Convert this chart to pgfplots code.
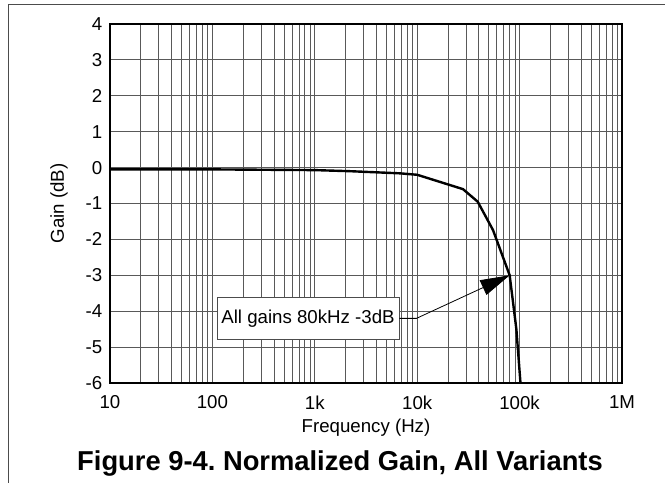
\documentclass[border=0pt]{standalone}
\usepackage{fontspec}
\setmainfont{Liberation Sans}
\usepackage{pgfplots}
\pgfplotsset{compat=1.18}
\usetikzlibrary{arrows.meta}
\begin{document}
\frenchspacing
\fontsize{14}{16}\selectfont
\begin{tikzpicture}
\useasboundingbox (-82.5pt,-75pt) rectangle (416.25pt,287.25pt);
\begin{axis}[
  at={(0,0)}, anchor=south west,
  scale only axis, width=384pt, height=269.25pt,
  xmode=log, log basis x=10,
  xmin=10, xmax=1e6, ymin=-6, ymax=4,
  xtick={10,100,1000,10000,100000,1000000},
  xticklabels={10,100,1k,10k,100k,1M},
  minor xtick={20,30,40,50,60,70,80,90,200,300,400,500,600,700,800,900,2000,3000,4000,5000,6000,7000,8000,9000,20000,30000,40000,50000,60000,70000,80000,90000,200000,300000,400000,500000,600000,700000,800000,900000},
  ytick={-6,-5,-4,-3,-2,-1,0,1,2,3,4},
  yticklabels={-6,-5,-4,-3,-2,-1,0,1,2,3,4},
  grid=both,
  major grid style={black!65, line width=0.6pt},
  minor grid style={black!65, line width=0.6pt},
  axis line style={line width=2pt},
  major tick length=0pt, minor tick length=0pt,
  tick label style={font=\fontsize{14}{16}\selectfont},
  yticklabel style={xshift=-1pt},
  xticklabel style={yshift=-4.5pt},
  xlabel={Frequency (Hz)}, ylabel={Gain (dB)},
  xlabel style={at={(axis description cs:0.5,-0.1365)}, anchor=base, font=\fontsize{14}{16}\selectfont},
  ylabel style={at={(axis description cs:-0.0996,0.5)}, anchor=center, font=\fontsize{14}{16}\selectfont},
]
\addplot[black, line width=1.8pt, line join=round] coordinates {
  (10,-0.05) (100,-0.05) (1000,-0.07) (2200,-0.1) (6800,-0.16) (10000,-0.2)
  (28000,-0.6) (39000,-0.95) (55000,-1.74) (80000,-3.0) (93000,-4.5) (102000,-6)
};
\node[draw=black!70, fill=white, line width=0.6pt, minimum width=136.5pt, minimum height=31.5pt, inner sep=2pt, font=\fontsize{14}{16}\selectfont] (ann) at (axis cs:859,-4.2) {All gains 80kHz -3dB};
\draw[line width=0.6pt, -{Triangle[length=22pt,width=12pt]}] (ann.east) -- ([xshift=12.75pt]ann.east) -- (axis cs:80000,-3);
\end{axis}
\draw[line width=0.75pt, black!70] (416.25pt,283.5pt) -- (-75.75pt,283.5pt) -- (-75.75pt,-75pt);
\node[anchor=base, font=\bfseries\fontsize{20.5}{24}\selectfont] at (172.5pt,-65.25pt) {Figure 9-4. Normalized Gain, All Variants};
\end{tikzpicture}
\end{document}
